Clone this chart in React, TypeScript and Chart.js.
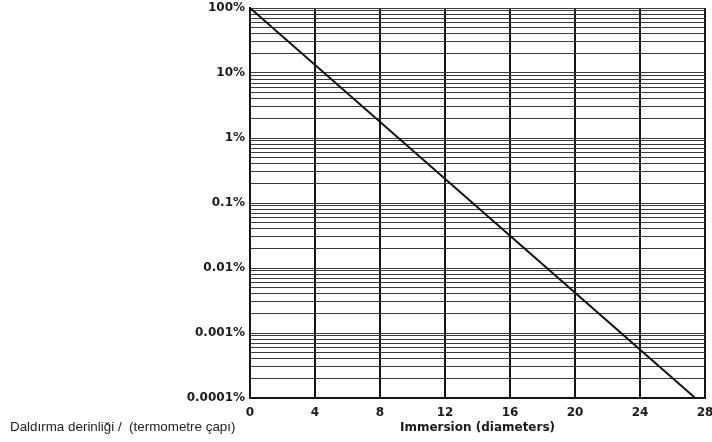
import React, { useEffect, useRef } from "react";
import { Chart, registerables } from "chart.js";

Chart.register(...registerables);

// Line: immersion (diameters) vs. error (%)
const immersion = [0, 27.4];
const errorPct = [100, 0.0001];

// Axis ticks
const xTicks = [0, 4, 8, 12, 16, 20, 24, 28];
const yDecades = [0.0001, 0.001, 0.01, 0.1, 1, 10, 100];
const yDecadeLabels = ["0.0001%", "0.001%", "0.01%", "0.1%", "1%", "10%", "100%"];
const yMantissas = [1, 2, 3, 4, 5, 6, 7, 8, 9];

const xTitle = "Immersion (diameters)";
const sideNote = "Daldırma derinliği /  (termometre çapı)";

const boldFont = { family: "'DejaVu Sans', sans-serif", size: 12, weight: "bold" as const };

export default function App() {
  const ref = useRef<HTMLCanvasElement | null>(null);

  useEffect(() => {
    const canvas = ref.current;
    if (!canvas) return;

    const yTickValues: number[] = [];
    yDecades.forEach((d, i) => {
      if (i === yDecades.length - 1) {
        yTickValues.push(d);
      } else {
        yMantissas.forEach((m) => yTickValues.push(+(d * m).toPrecision(6)));
      }
    });

    const labelFor = (v: number) => {
      const idx = yDecades.findIndex((d) => Math.abs(Math.log10(v) - Math.log10(d)) < 1e-6);
      return idx >= 0 ? yDecadeLabels[idx] : "";
    };

    const notePlugin = {
      id: "notePlugin",
      afterDraw(chart: any) {
        const ctx = chart.ctx;
        ctx.save();
        ctx.font = "13.4px 'Liberation Sans', Arial, sans-serif";
        ctx.fillStyle = "#222";
        ctx.textAlign = "left";
        ctx.textBaseline = "middle";
        ctx.fillText(sideNote, 10, 427);
        ctx.restore();
      },
    };

    const chart = new Chart(canvas, {
      type: "line",
      data: {
        datasets: [
          {
            data: immersion.map((x, i) => ({ x, y: errorPct[i] })),
            borderColor: "#111",
            borderWidth: 2,
            pointRadius: 0,
            fill: false,
            tension: 0,
          },
        ],
      },
      options: {
        animation: false,
        responsive: false,
        maintainAspectRatio: false,
        layout: { padding: { left: 0, right: 7, top: 8, bottom: 0 } },
        plugins: {
          legend: { display: false },
          tooltip: { enabled: false },
        },
        scales: {
          x: {
            type: "linear",
            min: 0,
            max: 28,
            afterBuildTicks: (scale: any) => {
              scale.ticks = xTicks.map((v) => ({ value: v }));
            },
            afterFit: (scale: any) => {
              scale.paddingLeft = 0;
              scale.paddingRight = 0;
              scale.height = 44;
            },
            ticks: {
              autoSkip: false,
              maxRotation: 0,
              padding: 8,
              color: "#1a1a1a",
              font: boldFont,
            },
            grid: {
              color: "#151515",
              lineWidth: 2,
              drawTicks: false,
            },
            border: { color: "#151515", width: 2 },
            title: {
              display: true,
              text: xTitle,
              color: "#1a1a1a",
              font: boldFont,
              padding: { top: 0, bottom: 7 },
            },
          },
          y: {
            type: "logarithmic",
            min: 0.0001,
            max: 100,
            afterBuildTicks: (scale: any) => {
              scale.ticks = yTickValues.map((v) => ({ value: v }));
            },
            afterFit: (scale: any) => {
              scale.width = 250;
              scale.paddingTop = 0;
              scale.paddingBottom = 0;
            },
            ticks: {
              autoSkip: false,
              padding: 5,
              color: "#1a1a1a",
              font: boldFont,
              callback: (v: any) => labelFor(Number(v)),
            },
            grid: {
              color: "#3a3a3a",
              lineWidth: 1,
              drawTicks: false,
            },
            border: { color: "#151515", width: 2 },
          },
        },
      },
      plugins: [notePlugin],
    });

    return () => chart.destroy();
  }, []);

  return (
    <div style={{ position: "fixed", left: 0, top: 0, width: 712, height: 442, background: "#fff" }}>
      <canvas ref={ref} width={712} height={442} style={{ display: "block" }} />
    </div>
  );
}
